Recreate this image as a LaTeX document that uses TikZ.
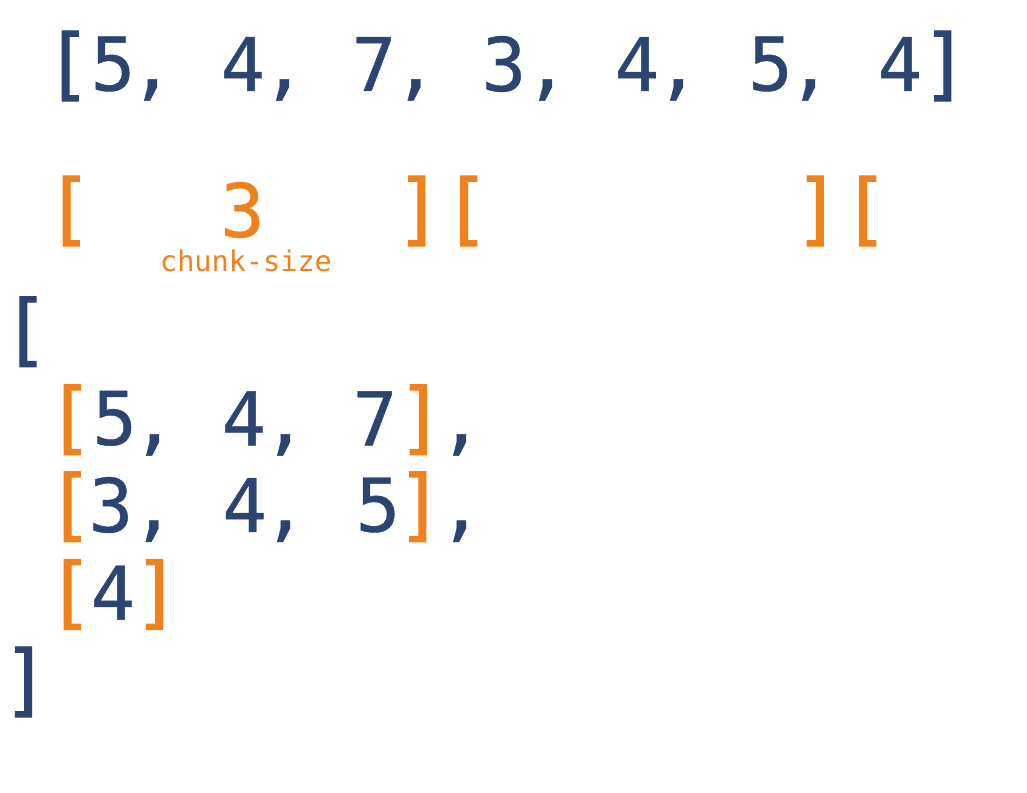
\documentclass[tikz,border=0pt]{standalone}
\usepackage{fontspec}
\newfontfamily\monofont[FakeBold=0.6]{DejaVu Sans Mono}
\newfontfamily\brkfont[FakeBold=1.2]{DejaVu Sans Mono}
\newfontfamily\lblfont{DejaVu Sans Mono}
\newcommand\zwbox[1]{\makebox[0pt]{#1}}
\definecolor{navy}{RGB}{43,68,112}
\definecolor{orng}{RGB}{240,130,30}
\begin{document}
\begin{tikzpicture}[x=0.75pt,y=-0.75pt,
  glyph/.style={inner sep=0pt,outer sep=0pt,anchor=center,font=\monofont\fontsize{55.5}{60}\selectfont},
  brk/.style={inner sep=0pt,outer sep=0pt,anchor=center,font=\brkfont\fontsize{59}{62}\selectfont},
  nv/.style={text=navy},
  og/.style={text=orng},
  lbl/.style={inner sep=0pt,anchor=center,text=orng,font=\lblfont\fontsize{21.4}{24}\selectfont}]
\useasboundingbox (0,0) rectangle (1027,792);
% row 1
\node[brk,nv] (a0) at (68,66) {\zwbox{[}};
\node[glyph,nv] (a1) at (113,64) {5};
\node[glyph,nv] (c1) at (152,90) {\zwbox{,}};
\node[glyph,nv] (a2) at (243,64) {4};
\node[glyph,nv] (c2) at (284,90) {\zwbox{,}};
\node[glyph,nv] (a3) at (374,64) {7};
\node[glyph,nv] (c3) at (415.5,90) {\zwbox{,}};
\node[glyph,nv] (a4) at (504,64) {3};
\node[glyph,nv] (c4) at (547,90) {\zwbox{,}};
\node[glyph,nv] (a5) at (637,64) {4};
\node[glyph,nv] (c5) at (678,90) {\zwbox{,}};
\node[glyph,nv] (a6) at (770.5,64) {5};
\node[glyph,nv] (c6) at (810,90) {\zwbox{,}};
\node[glyph,nv] (a7) at (900,64) {4};
\node[brk,nv] (a8) at (945,66) {\zwbox{]}};
% row 2
\node[brk,og] (b0) at (69,211) {\zwbox{[}};
\node[glyph,og] (b1) at (242.5,210) {3};
\node[lbl] (cs) at (246,261) {chunk-size};
\node[brk,og] (b2) at (419,211) {\zwbox{]}};
\node[brk,og] (b3) at (466.5,211) {\zwbox{[}};
\node[brk,og] (b4) at (817.5,211) {\zwbox{]}};
\node[brk,og] (b5) at (865.5,211) {\zwbox{[}};
% result
\node[brk,nv] (r0) at (25.8,331.7) {\zwbox{[}};
% chunk 1
\node[brk,og] (d0) at (70,419.7) {\zwbox{[}};
\node[glyph,nv] (d1) at (114.7,418.3) {5};
\node[glyph,nv] (dc1) at (154,445) {\zwbox{,}};
\node[glyph,nv] (d2) at (244,418.3) {4};
\node[glyph,nv] (dc2) at (285,445) {\zwbox{,}};
\node[glyph,nv] (d3) at (375,418.3) {7};
\node[brk,og] (d4) at (420.5,419.7) {\zwbox{]}};
\node[glyph,nv] (dc3) at (461,445) {\zwbox{,}};
% chunk 2
\node[brk,og] (e0) at (70,506.7) {\zwbox{[}};
\node[glyph,nv] (e1) at (111,505) {3};
\node[glyph,nv] (ec1) at (153.5,531.3) {\zwbox{,}};
\node[glyph,nv] (e2) at (244.7,505) {4};
\node[glyph,nv] (ec2) at (285,531.3) {\zwbox{,}};
\node[glyph,nv] (e3) at (378,505) {5};
\node[brk,og] (e4) at (420,506.7) {\zwbox{]}};
\node[glyph,nv] (ec3) at (461,531.3) {\zwbox{,}};
% chunk 3
\node[brk,og] (f0) at (70,594.5) {\zwbox{[}};
\node[glyph,nv] (f1) at (113,592.7) {4};
\node[brk,og] (f2) at (156.7,594.5) {\zwbox{]}};
% close
\node[brk,nv] (r1) at (25.8,682) {\zwbox{]}};
\end{tikzpicture}
\end{document}
